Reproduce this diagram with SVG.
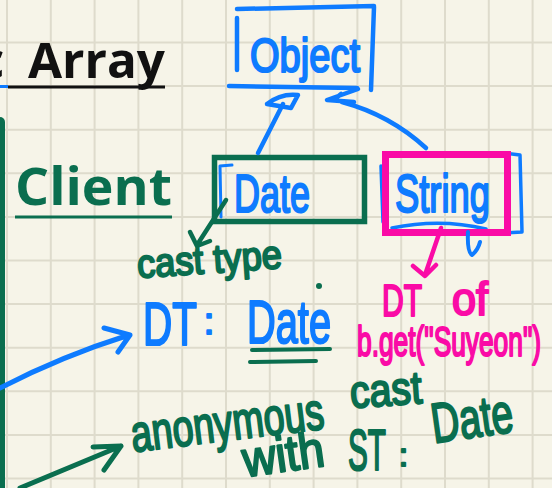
<svg xmlns="http://www.w3.org/2000/svg" width="552" height="488" viewBox="0 0 552 488">
  <defs>
    <style>
      .grid { stroke: #dedbcc; stroke-width: 2; }
      .ln { fill: none; stroke-linecap: round; stroke-linejoin: round; }
      .hw { font-family: "Liberation Sans Narrow", "Liberation Sans", sans-serif; stroke-linejoin: round; stroke-width: 2.2; }
      .head { font-family: "Open Sans", "Liberation Sans", sans-serif; font-weight: 700; }
      .blue { fill: #0e7bff; stroke: #0e7bff; }
      .green { fill: #0a6e4f; stroke: #0a6e4f; }
      .pink { fill: #fa0ba6; stroke: #fa0ba6; }
      .sb { stroke: #0e7bff; }
      .sg { stroke: #0a6e4f; }
      .sp { stroke: #fa0ba6; }
    </style>
  </defs>

  <!-- paper -->
  <rect width="552" height="488" fill="#f6f4e8"/>
  <g id="grid" class="grid">
    <line x1="7" y1="0" x2="7" y2="488"/>
    <line x1="50.8" y1="0" x2="50.8" y2="488"/>
    <line x1="94.6" y1="0" x2="94.6" y2="488"/>
    <line x1="138.4" y1="0" x2="138.4" y2="488"/>
    <line x1="182.2" y1="0" x2="182.2" y2="488"/>
    <line x1="226" y1="0" x2="226" y2="488"/>
    <line x1="269.8" y1="0" x2="269.8" y2="488"/>
    <line x1="313.6" y1="0" x2="313.6" y2="488"/>
    <line x1="357.4" y1="0" x2="357.4" y2="488"/>
    <line x1="401.2" y1="0" x2="401.2" y2="488"/>
    <line x1="445" y1="0" x2="445" y2="488"/>
    <line x1="488.8" y1="0" x2="488.8" y2="488"/>
    <line x1="532.6" y1="0" x2="532.6" y2="488"/>
    <line x1="0" y1="42.5" x2="552" y2="42.5"/>
    <line x1="0" y1="86.1" x2="552" y2="86.1"/>
    <line x1="0" y1="129.7" x2="552" y2="129.7"/>
    <line x1="0" y1="173.3" x2="552" y2="173.3"/>
    <line x1="0" y1="216.9" x2="552" y2="216.9"/>
    <line x1="0" y1="260.5" x2="552" y2="260.5"/>
    <line x1="0" y1="304.1" x2="552" y2="304.1"/>
    <line x1="0" y1="347.7" x2="552" y2="347.7"/>
    <line x1="0" y1="391.3" x2="552" y2="391.3"/>
    <line x1="0" y1="434.9" x2="552" y2="434.9"/>
    <line x1="0" y1="478.5" x2="552" y2="478.5"/>
  </g>

  <!-- left panel edge -->
  <rect x="-6" y="117" width="11" height="380" rx="5" fill="#0a6e4f"/>

  <!-- headings -->
  <g id="title">
    <text class="head" x="-21" y="78" font-size="49" fill="#111">c<tspan x="28" textLength="137" lengthAdjust="spacingAndGlyphs">Array</tspan></text>
    <line x1="0" y1="86.5" x2="8" y2="86.5" stroke="#0e7bff" stroke-width="3"/>
    <line x1="8" y1="87" x2="165" y2="87" stroke="#111" stroke-width="3"/>
  </g>
  <g id="client">
    <text class="head" x="15" y="205" font-size="52" fill="#0a6e4f" textLength="157" lengthAdjust="spacingAndGlyphs">Client</text>
    <line x1="15" y1="217" x2="172" y2="217" stroke="#0a6e4f" stroke-width="3"/>
  </g>

  <!-- Object class -->
  <g id="object">
    <path class="ln sb" stroke-width="4.5" d="M237,9 L374,6 M374,7 L371,90 M237,18 L237,70 M229,86 L357,88"/>
    <text class="hw blue" x="250" y="72" font-size="48" textLength="110" lengthAdjust="spacingAndGlyphs">Object</text>
  </g>

  <!-- Date class -->
  <g id="date">
    <path class="ln sb" stroke-width="3" d="M232,165 L220,166 L221,217"/>
    <rect x="214.5" y="157.5" width="150" height="64" fill="none" stroke="#0a6e4f" stroke-width="5.5"/>
    <text class="hw blue" x="234" y="212" font-size="54" textLength="76" lengthAdjust="spacingAndGlyphs">Date</text>
  </g>

  <!-- String class -->
  <g id="string">
    <path class="ln sb" stroke-width="3.5" d="M381,166 L383,222 M505,153 L520,155 L522,232 L505,233 M392,228 Q440,218 486,229"/>
    <rect x="385.5" y="154.5" width="122" height="78" fill="none" stroke="#fa0ba6" stroke-width="7"/>
    <text class="hw blue" x="395" y="212" font-size="54" textLength="95" lengthAdjust="spacingAndGlyphs">String</text>
    <path class="ln sb" stroke-width="4" d="M468,232 Q467,252 472,255 Q478,250 480,242"/>
  </g>

  <!-- connectors -->
  <g id="connectors">
    <!-- Date extends Object -->
    <path class="ln sb" stroke-width="4.5" d="M258,153 L283,104"/>
    <path class="ln sb" stroke-width="4.5" d="M267,104 Q281,93 298,95 L291,108 Q279,106 267,104 Z"/>
    <!-- String extends Object -->
    <path class="ln sb" stroke-width="4.5" d="M426,148 Q390,115 342,102"/>
    <path class="ln sb" stroke-width="4.5" d="M358,89 L327,100 L354,102 M341,94 L335,99"/>
    <!-- Date box to cast type -->
    <path class="ln sg" stroke-width="4.5" d="M226,200 L197,245 M190,232 L197,246 L210,241"/>
    <!-- String box to DT of -->
    <path class="ln sp" stroke-width="4.5" d="M441,228 L425,275 M413,266 L425,276 L436,265"/>
    <!-- incoming arrows from the client side -->
    <path class="ln sb" stroke-width="5" d="M0,388 Q62,356 129,335 M104,328 L130,335 L118,352"/>
    <path class="ln sg" stroke-width="5" d="M20,488 L121,446 M93,447 L121,446 L104,470"/>
  </g>

  <!-- annotations -->
  <g id="cast-type">
    <text class="hw green" x="138" y="278" font-size="40" textLength="145" lengthAdjust="spacingAndGlyphs" transform="rotate(-4 138 278)">cast type</text>
    <circle cx="319" cy="286" r="3" fill="#0a6e4f"/>
  </g>
  <g id="dt-date">
    <text class="hw blue" x="143" y="345" font-size="62" textLength="54" lengthAdjust="spacingAndGlyphs">DT</text>
    <text class="hw blue" x="204" y="334" font-size="36">:</text>
    <text class="hw blue" x="247" y="343" font-size="62" textLength="84" lengthAdjust="spacingAndGlyphs">Date</text>
    <path class="ln sg" stroke-width="4" d="M252,350 L330,349 M250,362 L316,361"/>
  </g>
  <g id="dt-of">
    <text class="hw pink" x="382" y="316" font-size="44" textLength="40" lengthAdjust="spacingAndGlyphs">DT</text>
    <text class="hw pink" x="452" y="315" font-size="46" textLength="36" lengthAdjust="spacingAndGlyphs">of</text>
    <text class="hw pink" x="357" y="356" font-size="42" textLength="184" lengthAdjust="spacingAndGlyphs">b.get("Suyeon")</text>
  </g>
  <g id="anonymous-cast">
    <text class="hw green" x="133" y="452" font-size="52" textLength="194" lengthAdjust="spacingAndGlyphs" transform="rotate(-7 133 452)">anonymous</text>
    <text class="hw green" x="351" y="408" font-size="46" textLength="72" lengthAdjust="spacingAndGlyphs" transform="rotate(-4 351 408)">cast</text>
    <text class="hw green" x="245" y="477" font-size="50" textLength="82" lengthAdjust="spacingAndGlyphs" transform="rotate(-8 245 477)">with</text>
    <text class="hw green" x="348" y="470" font-size="58" textLength="38" lengthAdjust="spacingAndGlyphs">ST</text>
    <text class="hw green" x="399" y="466" font-size="32">:</text>
    <text class="hw green" x="434" y="443" font-size="56" textLength="82" lengthAdjust="spacingAndGlyphs" transform="rotate(-8 434 443)">Date</text>
  </g>
</svg>
